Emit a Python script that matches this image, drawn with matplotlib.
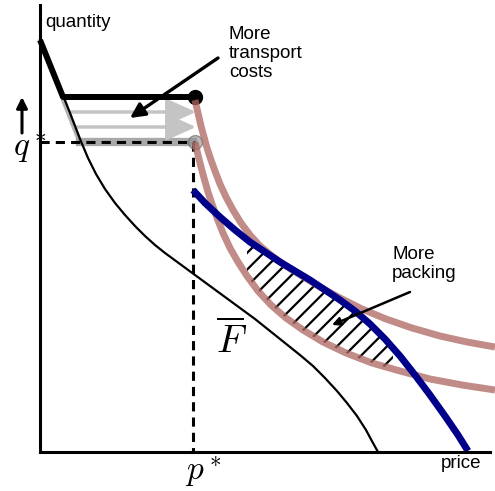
import matplotlib
matplotlib.use("Agg")
import matplotlib.pyplot as plt

plt.rcParams['mathtext.fontset'] = 'cm'
plt.rcParams['hatch.linewidth'] = 1.6
plt.rcParams['font.family'] = ['Liberation Sans', 'DejaVu Sans']

# ---- data (schematic curves; pixel-like coordinates) ----
axis_x = [40, 40, 490]
axis_y = [5, 452, 452]

frontier_x = [40, 50, 60, 70, 80, 88, 96, 105, 115, 125, 135, 145, 155, 165, 180, 195,
              210, 225, 240, 255, 270, 285, 300, 313, 325, 337, 347, 357, 366, 373, 378]
frontier_y = [40, 64, 88, 113, 139, 158, 174, 189, 203, 215, 226, 236, 245, 253, 264, 275,
              286, 297, 308, 319, 331, 343, 355, 366, 378, 391, 403, 416, 430, 443, 452]

thick_x = [40, 63, 195]
thick_y = [40, 97, 97]

upper_pink_x = [195, 198, 201, 204, 207, 211, 215, 220, 226, 233, 241, 250, 260, 272,
                286, 302, 320, 340, 362, 386, 412, 440, 467, 495]
upper_pink_y = [100, 113, 126, 137, 148, 160, 171, 184, 197, 210, 223, 235, 246, 256,
                266, 276, 287, 298, 309, 319, 328, 336, 342, 347]

lower_pink_x = [195, 198, 201, 204, 208, 212, 217, 223, 230, 238, 247, 258, 271, 286,
                303, 323, 346, 372, 400, 430, 462, 495]
lower_pink_y = [142, 155, 167, 178, 192, 204, 218, 233, 248, 262, 276, 291, 305, 318,
                330, 342, 353, 363, 371, 379, 385, 390]

blue_x = [193, 205, 220, 235, 250, 265, 280, 295, 310, 325, 340, 355, 370, 385, 400,
          415, 430, 445, 458, 468]
blue_y = [190, 203, 217, 230, 242, 252, 262, 271, 280, 290, 300, 311, 324, 339, 356,
          375, 395, 416, 435, 451]

hatch_x = [247, 250, 265, 280, 295, 310, 325, 340, 355, 370, 385, 393]
hatch_top = [240, 242, 252, 262, 271, 280, 290, 300, 311, 324, 339, 348]
hatch_bot = [276, 280, 298, 313, 325, 335, 343, 350, 357, 362, 367, 369]

p_star = 193
q_star = 142
q_high = 97
gray_arrow_y = [112, 127]
gray_arrow_x0 = [69, 75]

# ---- figure ----
fig = plt.figure(figsize=(4.95, 4.91), dpi=100)
ax = fig.add_axes([0, 0, 1, 1])
ax.set_xlim(0, 495)
ax.set_ylim(491, 0)
ax.axis('off')

pink = '#ad655f'
blue = '#00008b'

# gray shading of transport-cost shift
ax.plot([63, 80], [q_high + 2, q_star], color='#b0b0b0', lw=3.5, solid_capstyle='butt', zorder=2)
ax.plot([80, p_star], [q_star, q_star], color='#a0a0a0', lw=6, alpha=0.9, zorder=2)
for yy, x0 in zip(gray_arrow_y, gray_arrow_x0):
    ax.annotate('', xy=(196, yy), xytext=(x0, yy),
                arrowprops=dict(arrowstyle='-|>,head_length=1.0,head_width=0.45',
                                lw=2.5, color='#c4c4c4', shrinkA=0, shrinkB=0,
                                mutation_scale=18), zorder=2)

# hatched region
ax.fill_between(hatch_x, hatch_top, hatch_bot, facecolor='none', edgecolor='black',
                hatch='//', linewidth=0, zorder=3)

# frontier curve
ax.plot(frontier_x, frontier_y, color='black', lw=1.6, zorder=4)
ax.plot(thick_x, thick_y, color='black', lw=4.3, solid_capstyle='butt', zorder=4)

# dashed guide lines
ax.plot([40, p_star + 2], [q_star, q_star], color='black', lw=2.2, dashes=(3, 2), zorder=5)
ax.plot([p_star, p_star], [q_star, 452], color='black', lw=2.2, dashes=(3, 2), zorder=5)

# dots
ax.plot([195], [q_high], 'o', ms=10, color='black', zorder=5)
ax.plot([195], [q_star], 'o', ms=10, mfc='#909090', mec='#606060', alpha=0.6, zorder=5)

# pink curves and blue curve
ax.plot(upper_pink_x, upper_pink_y, color=pink, lw=5, alpha=0.75, solid_capstyle='butt', zorder=6)
ax.plot(lower_pink_x, lower_pink_y, color=pink, lw=5, alpha=0.75, solid_capstyle='butt', zorder=6)
ax.plot(blue_x, blue_y, color=blue, lw=5, solid_capstyle='butt', zorder=7)

# axes
ax.plot(axis_x, axis_y, color='black', lw=2.2, solid_joinstyle='miter', zorder=8)

# arrows with labels
ax.annotate('', xy=(130, 118), xytext=(218, 58),
            arrowprops=dict(arrowstyle='-|>', lw=2.4, color='black', mutation_scale=22,
                            shrinkA=0, shrinkB=0), zorder=9)
ax.annotate('', xy=(332, 325), xytext=(410, 292),
            arrowprops=dict(arrowstyle='-|>', lw=1.8, color='black', mutation_scale=12,
                            shrinkA=0, shrinkB=0), zorder=9)

ax.text(229, 77, 'More\ntransport\ncosts', fontsize=13.5, ha='left', va='baseline',
        linespacing=1.15, zorder=9)
ax.text(392, 278, 'More\npacking', fontsize=13.5, ha='left', va='baseline',
        linespacing=1.15, zorder=9)
ax.text(45, 27, 'quantity', fontsize=13.5, ha='left', va='baseline', zorder=9)
ax.text(441, 468, 'price', fontsize=13.5, ha='left', va='baseline', zorder=9)

# math labels
ax.text(13, 156, r'$q^*$', fontsize=24, ha='left', va='baseline', zorder=9)
ax.text(185, 481, r'$p^*$', fontsize=24, ha='left', va='baseline', zorder=9)
ax.text(216, 353, r'$\overline{F}$', fontsize=28, ha='left', va='baseline', zorder=9)
ax.annotate('', xy=(22, 97), xytext=(22, 133),
            arrowprops=dict(arrowstyle='-|>', lw=2.2, color='black', mutation_scale=16,
                            shrinkA=0, shrinkB=0), zorder=9)

fig.savefig('out.png', dpi=100)
